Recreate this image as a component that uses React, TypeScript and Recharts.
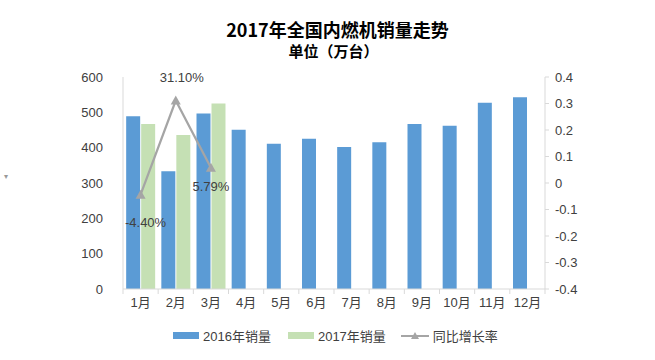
import React from "react";
import {
  ComposedChart,
  Bar,
  Line,
  XAxis,
  YAxis,
  LabelList,
} from "recharts";

const months = ["1月", "2月", "3月", "4月", "5月", "6月", "7月", "8月", "9月", "10月", "11月", "12月"];
const sales2016 = [489, 333, 497, 451, 411, 425, 402, 415, 467, 462, 527, 543];
const sales2017 = [467, 436, 525, null, null, null, null, null, null, null, null, null];
const growth = [-0.044, 0.311, 0.0579, null, null, null, null, null, null, null, null, null];
const growthLabels = ["-4.40%", "31.10%", "5.79%"];
const leftTicks = [0, 100, 200, 300, 400, 500, 600];
const rightTicks = [-0.4, -0.3, -0.2, -0.1, 0, 0.1, 0.2, 0.3, 0.4];

const data = months.map((m, i) => ({
  month: m,
  s2016: sales2016[i],
  s2017: sales2017[i],
  growth: growth[i],
}));

const FONT = "'Liberation Sans', 'Noto Sans CJK SC', sans-serif";
const CJK = "'Noto Sans CJK SC', sans-serif";
const BLUE = "#5B9BD5";
const GREEN = "#C5E0B4";
const GRAY = "#A5A5A5";
const AXIS = "#D9D9D9";
const BAND = 422 / 12;

function Triangle(props: any) {
  const { cx, cy, value } = props;
  if (value == null || cx == null || cy == null) return null;
  return <path d={`M${cx},${cy - 5} L${cx + 5},${cy + 4} L${cx - 5},${cy + 4} Z`} fill={GRAY} />;
}

function MonthTick(props: any) {
  const { x, y, payload, index } = props;
  return (
    <g>
      <line x1={x - BAND / 2} x2={x - BAND / 2} y1={y - 8} y2={y - 3} stroke={AXIS} />
      {index === months.length - 1 && (
        <line x1={x + BAND / 2} x2={x + BAND / 2} y1={y - 8} y2={y - 3} stroke={AXIS} />
      )}
      <text x={x} y={y + 10} textAnchor="middle" fontSize={13} fill="#404040" fontFamily={FONT}>
        {payload.value}
      </text>
    </g>
  );
}

function GrowthLabel(props: any) {
  const { x, y, index } = props;
  if (index > 2 || x == null) return null;
  const offsets = [
    { dx: 5, dy: 32 },
    { dx: 6, dy: -19 },
    { dx: 0, dy: 23 },
  ];
  const o = offsets[index];
  return (
    <text x={x + o.dx} y={y + o.dy} textAnchor="middle" fontSize={13} fill="#404040" fontFamily={FONT}>
      {growthLabels[index]}
    </text>
  );
}

export default function App() {
  return (
    <div style={{ position: "absolute", left: 0, top: 0, width: 655, height: 360, background: "#fff", fontFamily: FONT }}>
      <div style={{ position: "absolute", left: 0, width: 655, top: 17, textAlign: "center", fontSize: 18, fontWeight: "bold", color: "#000", paddingLeft: 10, fontFamily: CJK, lineHeight: "24px" }}>
        2017年全国内燃机销量走势
      </div>
      <div style={{ position: "absolute", left: 0, width: 655, top: 41, textAlign: "center", fontSize: 15, fontWeight: "bold", color: "#000", paddingLeft: 6, fontFamily: CJK, lineHeight: "20px" }}>
        单位（万台）
      </div>
      <div style={{ position: "absolute", left: 4, top: 172, fontSize: 8, color: "#999" }}>▾</div>
      <ComposedChart
        width={655}
        height={360}
        data={data}
        margin={{ top: 77, right: 60, bottom: 41, left: 63 }}
        barCategoryGap="9%"
        barGap={1}
      >
        <XAxis
          dataKey="month"
          axisLine={{ stroke: AXIS }}
          tickLine={false}
          tick={<MonthTick />}
          interval={0}
          height={30}
        />
        <YAxis
          yAxisId="left"
          domain={[0, 600]}
          ticks={leftTicks}
          width={60}
          axisLine={{ stroke: AXIS }}
          tickLine={false}
          tick={{ fontSize: 13, fill: "#404040", fontFamily: FONT }}
          tickMargin={14}
        />
        <YAxis
          yAxisId="right"
          orientation="right"
          domain={[-0.4, 0.4]}
          ticks={rightTicks}
          width={50}
          axisLine={{ stroke: AXIS }}
          tickLine={{ stroke: AXIS }}
          tickSize={4}
          tick={{ fontSize: 13, fill: "#404040", fontFamily: FONT, textAnchor: "start" }}
          tickMargin={6}
        />
        <Bar yAxisId="left" dataKey="s2016" fill={BLUE} isAnimationActive={false} />
        <Bar yAxisId="left" dataKey="s2017" fill={GREEN} isAnimationActive={false} />
        <Line
          yAxisId="right"
          dataKey="growth"
          stroke={GRAY}
          strokeWidth={2.25}
          dot={<Triangle />}
          activeDot={false}
          isAnimationActive={false}
        >
          <LabelList dataKey="growth" content={<GrowthLabel />} />
        </Line>
      </ComposedChart>
      <div style={{ position: "absolute", top: 326, left: 173, display: "flex", alignItems: "center", fontSize: 13, color: "#404040", whiteSpace: "nowrap" }}>
        <span style={{ width: 26, height: 7, background: BLUE, display: "inline-block", marginRight: 4 }} />
        <span style={{ marginRight: 17 }}>2016年销量</span>
        <span style={{ width: 26, height: 7, background: GREEN, display: "inline-block", marginRight: 4 }} />
        <span style={{ marginRight: 15 }}>2017年销量</span>
        <svg width={28} height={10} style={{ marginRight: 4 }}>
          <line x1={0} x2={28} y1={5} y2={5} stroke={GRAY} strokeWidth={2} />
          <path d="M14,1 L18,8 L10,8 Z" fill={GRAY} />
        </svg>
        <span>同比增长率</span>
      </div>
    </div>
  );
}
